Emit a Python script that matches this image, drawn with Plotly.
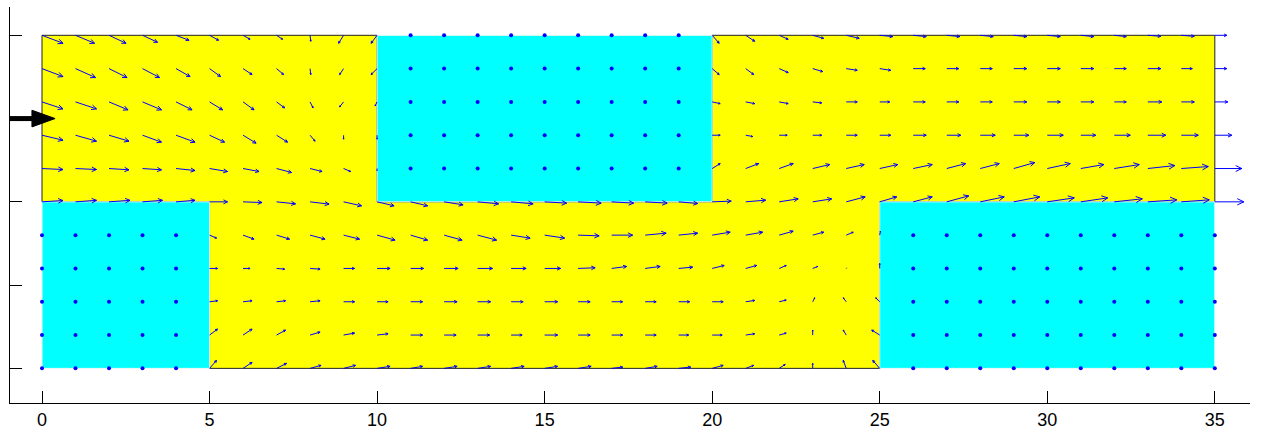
import numpy as np
import plotly.graph_objects as go
import plotly.figure_factory as ff

# ---------------- data ----------------
grid_x = [0, 1, 2, 3, 4, 5, 6, 7, 8, 9, 10, 11, 12, 13, 14, 15, 16, 17,
          18, 19, 20, 21, 22, 23, 24, 25, 26, 27, 28, 29, 30, 31, 32, 33, 34, 35]
grid_y = [0, 1, 2, 3, 4, 5, 6, 7, 8, 9, 10]

# velocity components per row (arbitrary units), rows listed by y level
u_y10 = [21, 19, 17, 15, 13, 9, 7, 6, 0.7, -5, -6, 0, 0, 0, 0, 0, 0, 0, 0, 0,
         7, 9, 9, 11, 13, 13, 13, 13, 13, 13, 13, 13, 12, 13, 13, 12]
v_y10 = [-8, -8, -8, -7, -5, -5, -4, -4, -6, -8, -8, 0, 0, 0, 0, 0, 0, 0, 0, 0,
         -8, -6, -4, -3, -3, -1.3, -1.3, -1.3, -1.3, -1.3, -1.3, -1.3, -1.3, -1, -1, 0]
u_y9 = [21, 20, 18, 17, 14, 11, 9, 7, 0.7, -4, -6, 0, 0, 0, 0, 0, 0, 0, 0, 0,
        7, 8, 9, 10, 11, 11, 12, 12, 12, 13, 13, 13, 12, 13, 11, 12]
v_y9 = [-8, -9, -9, -9, -8, -8, -6, -6, -6, -6, -6, 0, 0, 0, 0, 0, 0, 0, 0, 0,
        -6, -6, -4, -3, -1.7, -1.7, 0, 0, 0, 0, 0, 0, 0, 0, 0, 0]
u_y8 = [21, 21, 19, 19, 16, 13, 11, 8, 3, -4, -2, 0, 0, 0, 0, 0, 0, 0, 0, 0,
        8, 9, 9, 9, 11, 10, 12, 12, 12, 13, 13, 13, 12, 14, 13, 13]
v_y8 = [-7, -7, -8, -8, -8, -8, -8, -6, -6, -5, -4, 0, 0, 0, 0, 0, 0, 0, 0, 0,
        -1.7, -1.7, -1.7, -1, 0, 0, 0, 0, 0, 0, 0, 0, 0, 0, 0, 0]
u_y7 = [21, 21, 20, 19, 19, 15, 13, 11, 5, 0, 0, 0, 0, 0, 0, 0, 0, 0, 0, 0,
        8, 7, 8, 9, 11, 11, 13, 14, 15, 15, 16, 15, 16, 18, 17, 17]
v_y7 = [-5, -6, -6, -7, -7, -7, -8, -7, -6, -4, -4, 0, 0, 0, 0, 0, 0, 0, 0, 0,
        0, -1.3, 0, 0, 0, 0, 0, 0, 0, 0, 0, 0, 0, 0, 0, 0]
u_y6 = [21, 21, 20, 19, 19, 18, 16, 15, 12, 7, 0, 0, 0, 0, 0, 0, 0, 0, 0, 0,
        8, 13, 14, 17, 18, 18, 19, 19, 19, 21, 23, 23, 25, 27, 27, 27]
v_y6 = [-1, -1, -1.3, -1.3, -2, -3, -3, -4, -3, -3, -2, 0, 0, 0, 0, 0, 0, 0, 0, 0,
        5, 5, 5, 4, 4, 4, 4, 5, 5, 6, 5, 4, 4, 3, 2, 0]
u_y5 = [21, 21, 21, 20, 19, 18, 19, 19, 19, 18, 17, 17, 19, 21, 22, 22, 23, 22, 22, 19,
        19, 20, 19, 19, 19, 17, 19, 22, 24, 26, 27, 27, 28, 29, 28, 29]
v_y5 = [1.3, 1.5, 1.5, 1.5, 1.5, 0, -0.7, -2, -2.3, -4, -4, -4, -3, -2, -2, -1.3, -1.3, -1.3, -1.3, -1.7,
        0.7, 1.7, 3, 3, 5, 5, 5, 6, 5, 5, 4, 4, 3, 2, 2, 0]
u_y4 = [0, 0, 0, 0, 0, 7, 11, 13, 15, 16, 18, 17, 18, 19, 19, 20, 21, 21, 21, 19,
        18, 17, 14, 11, 7, 0.7, 0, 0, 0, 0, 0, 0, 0, 0, 0, 0]
v_y4 = [0, 0, 0, 0, 0, -3, -4, -4, -4, -4, -5, -5, -5, -5, -3, -3, -0.7, 0, 2, 2,
        3, 3, 4, 3, 3, 4, 0, 0, 0, 0, 0, 0, 0, 0, 0, 0]
u_y3 = [0, 0, 0, 0, 0, 8, 7, 8, 10, 11, 13, 13, 14, 15, 15, 16, 17, 15, 15, 14,
        12, 11, 7, 5, 0.5, 0, 0, 0, 0, 0, 0, 0, 0, 0, 0, 0]
v_y3 = [0, 0, 0, 0, 0, 0, 0, -0.7, -0.7, 0, 0, 0, 0, 0, 0, 0, 0.7, 2, 2, 1.3,
        3, 3, 3, 2, 0.5, 5, 0, 0, 0, 0, 0, 0, 0, 0, 0, 0]
u_y2 = [0, 0, 0, 0, 0, 8, 9, 9, 10, 11, 11, 12, 13, 13, 12, 13, 12, 11, 11, 11,
        11, 9, 7, 2, -3, -4, 0, 0, 0, 0, 0, 0, 0, 0, 0, 0]
v_y2 = [0, 0, 0, 0, 0, 1, 1, 1, 1, 0, 0, 0, 0, 0, 0, 0, 0, 0, 0, 0,
        0, 1.3, 1.7, 4, 4, 4, 0, 0, 0, 0, 0, 0, 0, 0, 0, 0]
u_y1 = [0, 0, 0, 0, 0, 8, 9, 9, 10, 11, 11, 12, 12, 12, 11, 13, 12, 11, 11, 10,
        10, 9, 7, 0, -3, -8, 0, 0, 0, 0, 0, 0, 0, 0, 0, 0]
v_y1 = [0, 0, 0, 0, 0, 6, 6, 5, 3, 2, 1.3, 0, 0, 0, 0, 0, 0, 0, 0, 0,
        0, 1.3, 2, 5, 5, 5, 0, 0, 0, 0, 0, 0, 0, 0, 0, 0]
u_y0 = [0, 0, 0, 0, 0, 7, 9, 10, 11, 12, 13, 12, 13, 13, 13, 13, 13, 11, 12, 12,
        11, 8, 6, 0, -3, -7, 0, 0, 0, 0, 0, 0, 0, 0, 0, 0]
v_y0 = [0, 0, 0, 0, 0, 8, 6, 5, 3, 3, 2, 2, 2, 2, 2, 2, 2, 1.3, 2, 1.3,
        3, 3, 4, 5, 8, 8, 0, 0, 0, 0, 0, 0, 0, 0, 0, 0]

# geometry of the regions
fluid_x = [0, 0, 10, 10, 20, 20, 35, 35, 25, 25, 5, 5, 0]
fluid_y = [5, 10, 10, 5, 5, 10, 10, 5, 5, 0, 0, 5, 5]
block_x0 = [10, 0, 25]
block_x1 = [20, 5, 35]
block_y0 = [5, 0, 0]
block_y1 = [10, 5, 5]

# inlet arrow
inlet_y = 7.5
inlet_x_start = -1.1
inlet_x_tip = 0.39
inlet_head_len = 0.69
inlet_head_half = 0.25

x_ticks = [0, 5, 10, 15, 20, 25, 30, 35]
y_ticks = [0, 2.5, 5, 7.5, 10]

vel_scale = 1 / 33.5

# ---------------- figure ----------------
U = np.array([u_y0, u_y1, u_y2, u_y3, u_y4, u_y5, u_y6, u_y7, u_y8, u_y9, u_y10], dtype=float)
V = np.array([v_y0, v_y1, v_y2, v_y3, v_y4, v_y5, v_y6, v_y7, v_y8, v_y9, v_y10], dtype=float)
X, Y = np.meshgrid(np.array(grid_x, dtype=float), np.array(grid_y, dtype=float))

fig = go.Figure()

fig.add_trace(go.Scatter(x=fluid_x, y=fluid_y, mode="lines", fill="toself",
                         fillcolor="#ffff00", line=dict(color="#222222", width=1),
                         hoverinfo="skip"))
for x0, x1, y0, y1 in zip(block_x0, block_x1, block_y0, block_y1):
    fig.add_trace(go.Scatter(x=[x0, x1, x1, x0, x0], y=[y0, y0, y1, y1, y0],
                             mode="lines", fill="toself", fillcolor="#00ffff",
                             line=dict(color="#f0f8f8", width=1), hoverinfo="skip"))

q = ff.create_quiver(X.flatten(), Y.flatten(), U.flatten(), V.flatten(),
                     scale=vel_scale, arrow_scale=0.25, angle=np.pi / 7,
                     line=dict(color="#0000ff", width=1))
for tr in q.data:
    tr.hoverinfo = "skip"
    fig.add_trace(tr)

zero = (U.flatten() == 0) & (V.flatten() == 0)
fig.add_trace(go.Scatter(x=X.flatten()[zero], y=Y.flatten()[zero], mode="markers",
                         marker=dict(color="#0000ff", size=4), hoverinfo="skip"))

# inlet arrow
fig.add_trace(go.Scatter(x=[inlet_x_start, inlet_x_tip - inlet_head_len * 0.9],
                         y=[inlet_y, inlet_y], mode="lines",
                         line=dict(color="black", width=5), hoverinfo="skip"))
fig.add_trace(go.Scatter(x=[inlet_x_tip, inlet_x_tip - inlet_head_len, inlet_x_tip - inlet_head_len, inlet_x_tip],
                         y=[inlet_y, inlet_y + inlet_head_half, inlet_y - inlet_head_half, inlet_y],
                         mode="lines", fill="toself", fillcolor="black",
                         line=dict(color="black", width=1), hoverinfo="skip"))

fig.update_layout(width=1261, height=437, margin=dict(l=10, r=11, t=7, b=32),
                  plot_bgcolor="white", paper_bgcolor="white", showlegend=False)
fig.update_xaxes(range=[-0.955, 36.05], tickvals=x_ticks, ticktext=[str(t) for t in x_ticks],
                 ticks="inside", ticklen=12, tickcolor="black", showline=True,
                 linecolor="black", linewidth=1, showgrid=False, zeroline=False,
                 tickfont=dict(family="Liberation Sans, Arial", size=18, color="black"))
fig.update_yaxes(range=[-1.04, 10.85], tickvals=y_ticks, showticklabels=False,
                 ticks="inside", ticklen=12, tickcolor="black", showline=True,
                 linecolor="black", linewidth=1, showgrid=False, zeroline=False)

fig.write_html("out.html")
